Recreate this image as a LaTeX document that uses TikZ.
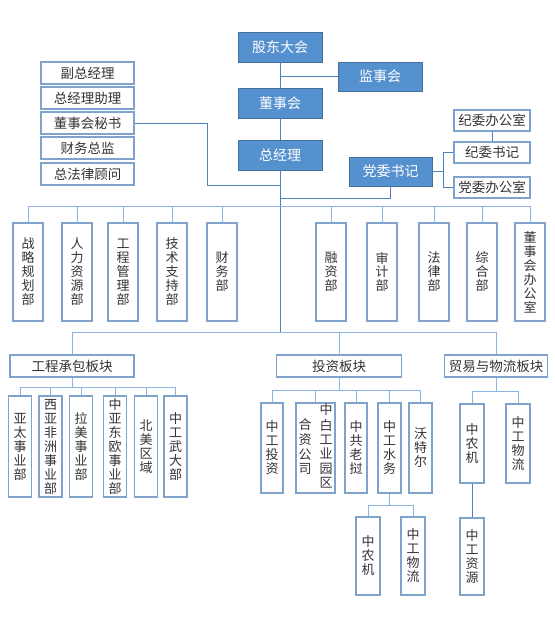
\documentclass[tikz,border=0pt]{standalone}
\usepackage{fontspec}
\setmainfont{Noto Sans CJK SC}
\definecolor{bluefill}{HTML}{5590CF}
\definecolor{blueedge}{HTML}{41719C}
\definecolor{lightedge}{HTML}{7FA3CC}
\definecolor{trunkc}{HTML}{4F81BD}
\definecolor{branchc}{HTML}{8DB3E2}
\definecolor{txt}{HTML}{333333}
\tikzset{
  bbox/.style={draw=blueedge, line width=0.8pt, fill=bluefill, text=white, inner sep=0pt, font=\fontsize{14}{16}\selectfont},
  wbox/.style={draw=lightedge, line width=1.3pt, fill=white, text=txt, inner sep=0pt, font=\fontsize{13.5}{15}\selectfont},
  vbox/.style={draw=lightedge, line width=1.3pt, fill=white, text=txt, inner sep=0pt, align=center, font=\fontsize{13}{14}\selectfont},
  trunk/.style={draw=trunkc, line width=0.9pt},
  branch/.style={draw=branchc, line width=0.9pt},
}
\begin{document}
\begin{tikzpicture}[x=1pt,y=-1pt]
\useasboundingbox (0,0) rectangle (554,644);
% top blue boxes
\node[bbox, minimum width=84, minimum height=30] (gd) at (280,47) {股东大会};
\node[bbox, minimum width=84, minimum height=29] (jsh) at (380,76.5) {监事会};
\node[bbox, minimum width=84, minimum height=30] (dsh) at (280,103) {董事会};
\node[bbox, minimum width=84, minimum height=30] (zjl) at (280,155) {总经理};
\node[bbox, minimum width=83, minimum height=29] (dw) at (390.5,171.5) {党委书记};
% left stack
\node[wbox, minimum width=93, minimum height=22] (fz) at (87.5,73) {副总经理};
\node[wbox, minimum width=93, minimum height=22] (zz) at (87.5,98) {总经理助理};
\node[wbox, minimum width=93, minimum height=22] (ms) at (87.5,123) {董事会秘书};
\node[wbox, minimum width=93, minimum height=22] (cw) at (87.5,148) {财务总监};
\node[wbox, minimum width=93, minimum height=22] (fl) at (87.5,174) {总法律顾问};
% right stack
\node[wbox, minimum width=76, minimum height=21] (jwb) at (492,120.5) {纪委办公室};
\node[wbox, minimum width=76, minimum height=21] (jws) at (492,152.5) {纪委书记};
\node[wbox, minimum width=76, minimum height=21] (dwb) at (492,187.5) {党委办公室};
% departments
\node[vbox, minimum width=30, minimum height=98] (d1) at (28,272) {战\\略\\规\\划\\部};
\node[vbox, minimum width=30, minimum height=98] (d2) at (77,272) {人\\力\\资\\源\\部};
\node[vbox, minimum width=30, minimum height=98] (d3) at (123,272) {工\\程\\管\\理\\部};
\node[vbox, minimum width=30, minimum height=98] (d4) at (172,272) {技\\术\\支\\持\\部};
\node[vbox, minimum width=30, minimum height=98] (d5) at (222,272) {财\\务\\部};
\node[vbox, minimum width=30, minimum height=98] (d6) at (331,272) {融\\资\\部};
\node[vbox, minimum width=30, minimum height=98] (d7) at (382,272) {审\\计\\部};
\node[vbox, minimum width=30, minimum height=98] (d8) at (434,272) {法\\律\\部};
\node[vbox, minimum width=30, minimum height=98] (d9) at (482,272) {综\\合\\部};
\node[vbox, minimum width=30, minimum height=98] (d10) at (530,272) {董\\事\\会\\办\\公\\室};
% group headers
\node[wbox, minimum width=124, minimum height=22] (gc) at (72,366) {工程承包板块};
\node[wbox, minimum width=125, minimum height=22] (tz) at (339,366) {投资板块};
\node[wbox, minimum width=103, minimum height=22] (my) at (496,366) {贸易与物流板块};
% engineering children
\node[vbox, minimum width=23, minimum height=101] (e1) at (20,446.5) {亚\\太\\事\\业\\部};
\node[vbox, minimum width=23, minimum height=101] (e2) at (50.5,446.5) {西\\亚\\非\\洲\\事\\业\\部};
\node[vbox, minimum width=23, minimum height=101] (e3) at (81,446.5) {拉\\美\\事\\业\\部};
\node[vbox, minimum width=23, minimum height=101] (e4) at (115,446.5) {中\\亚\\东\\欧\\事\\业\\部};
\node[vbox, minimum width=23, minimum height=101] (e5) at (146,446.5) {北\\美\\区\\域};
\node[vbox, minimum width=23, minimum height=101] (e6) at (175.5,446.5) {中\\工\\武\\大\\部};
% investment children
\node[vbox, minimum width=22, minimum height=90] (i1) at (272,448) {中\\工\\投\\资};
\node[vbox, minimum width=39, minimum height=90] (i2) at (315.5,448) {\begin{tabular}[c]{@{}c@{}}合\\资\\公\\司\end{tabular}\hspace{8pt}\begin{tabular}[c]{@{}c@{}}中\\白\\工\\业\\园\\区\end{tabular}};
\node[vbox, minimum width=22, minimum height=90] (i3) at (356,448) {中\\共\\老\\挝};
\node[vbox, minimum width=23, minimum height=90] (i4) at (389.5,448) {中\\工\\水\\务};
\node[vbox, minimum width=23, minimum height=90] (i5) at (420.5,448) {沃\\特\\尔};
% water sub
\node[vbox, minimum width=24, minimum height=78] (w1) at (368,556) {中\\农\\机};
\node[vbox, minimum width=24, minimum height=78] (w2) at (413,556) {中\\工\\物\\流};
% trade children
\node[vbox, minimum width=24, minimum height=79] (t1) at (472,443.5) {中\\农\\机};
\node[vbox, minimum width=24, minimum height=79] (t2) at (518,443.5) {中\\工\\物\\流};
\node[vbox, minimum width=24, minimum height=77] (t3) at (472,556.5) {中\\工\\资\\源};
% coordinates
\coordinate (j1) at (280,76.5);
\coordinate (bar1) at (280,206);
\coordinate (bar2) at (280,332);
\coordinate (msa) at (207,123);
\coordinate (msb) at (280,185);
\coordinate (dwa) at (280,198);
\coordinate (dwc) at (443,171.5);
% top connectors
\draw[trunk] (gd.south) -- (dsh.north);
\draw[trunk] (j1) -- (jsh.west);
\draw[trunk] (dsh.south) -- (zjl.north);
\draw[trunk] (zjl.south) -- (bar2);
\draw[trunk] (ms.east) -- (msa) |- (msb);
\draw[trunk] (dw.south) |- (dwa);
\draw[trunk] (dw.east) -- (dwc);
\draw[trunk] (dwc) |- (jws.west);
\draw[trunk] (dwc) |- (dwb.west);
\draw[trunk] (jwb.south) -- (jws.north);
% department bar
\foreach \n in {d1,d2,d3,d4,d5,d6,d7,d8,d9,d10}
  \draw[branch] (bar1) -| (\n.north);
% group bar
\foreach \n in {gc,tz,my}
  \draw[branch] (bar2) -| (\n.north);
% children
\foreach \n in {e1,e2,e3,e4,e5,e6}
  \draw[branch] (gc.south) -- ++(0,10) -| (\n.north);
\foreach \n in {i1,i2,i3,i4,i5}
  \draw[branch] (tz.south) -- ++(0,13) -| (\n.north);
\foreach \n in {t1,t2}
  \draw[branch] (my.south) -- ++(0,14) -| (\n.north);
\foreach \n in {w1,w2}
  \draw[branch] (i4.south) -- ++(0,12) -| (\n.north);
\draw[trunk] (t1.south) -- (t3.north);
\end{tikzpicture}
\end{document}
